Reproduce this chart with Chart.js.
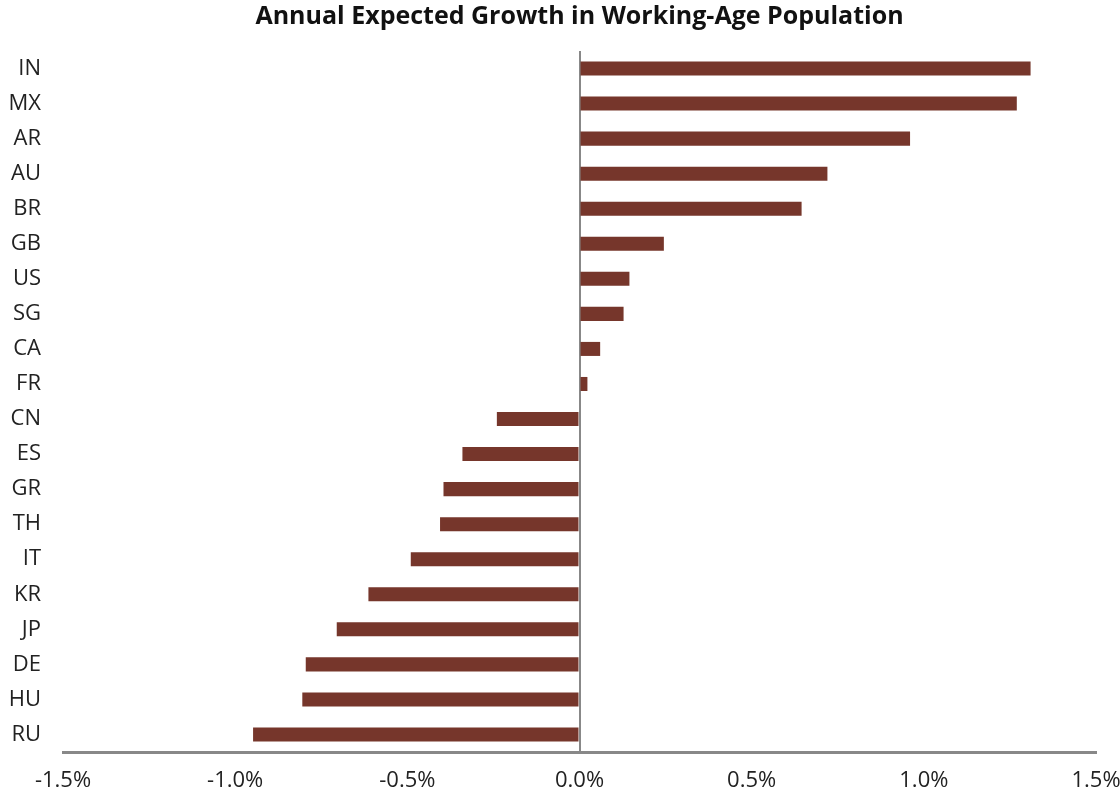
<!DOCTYPE html>
<html>
<head>
<meta charset="utf-8">
<script src="https://cdn.jsdelivr.net/npm/chart.js@4"></script>
<style>
  html, body { margin: 0; padding: 0; background: #fff; }
  #wrap { width: 1120px; height: 795px; }
</style>
</head>
<body>
<div id="wrap"><canvas id="growthChart"></canvas></div>
<script>
// datos (% anual)
const paises = ['IN', 'MX', 'AR', 'AU', 'BR', 'GB', 'US', 'SG', 'CA', 'FR',
                'CN', 'ES', 'GR', 'TH', 'IT', 'KR', 'JP', 'DE', 'HU', 'RU'];
const crecimiento = [1.31, 1.27, 0.96, 0.72, 0.645, 0.245, 0.145, 0.128, 0.06, 0.023,
                     -0.24, -0.34, -0.395, -0.405, -0.49, -0.613, -0.705, -0.795, -0.805, -0.948];
const ticksX = [-1.5, -1.0, -0.5, 0.0, 0.5, 1.0, 1.5];

const fuente = "'Open Sans', 'Noto Sans', sans-serif";

const ctx = document.getElementById('growthChart').getContext('2d');
const growthChart = new Chart(ctx, {
    type: 'bar',
    data: {
        labels: paises,
        datasets: [{
            label: 'Working-age population growth',
            data: crecimiento,
            backgroundColor: '#76362b',
            borderWidth: 0,
            barPercentage: 0.4,
            categoryPercentage: 1.0
        }]
    },
    options: {
        indexAxis: 'y',
        responsive: true,
        maintainAspectRatio: false,
        animation: false,
        layout: {
            padding: 0
        },
        plugins: {
            legend: { display: false },
            tooltip: { enabled: false },
            title: {
                display: true,
                fullSize: false,  // centrar sobre el área del gráfico
                text: 'Annual Expected Growth in Working-Age Population',
                color: '#111',
                font: { family: fuente, size: 25, weight: 'bold' },
                padding: { top: 2, bottom: 19 }
            }
        },
        scales: {
            x: {
                min: -1.5,
                max: 1.5,
                afterBuildTicks: function(scale) {
                    scale.ticks = ticksX.map(v => ({ value: v }));
                },
                afterFit: function(scale) {
                    scale.height = 43;
                    scale.paddingRight = 24;
                },
                grid: {
                    drawTicks: false,
                    lineWidth: 2,
                    color: function(c) {
                        return c.tick && c.tick.value === 0 ? '#888' : 'rgba(0,0,0,0)';
                    }
                },
                border: { display: true, color: '#888', width: 3 },
                ticks: {
                    color: '#222',
                    padding: 16,
                    maxRotation: 0,
                    font: { family: fuente, size: 22 },
                    callback: function(value) {
                        return value.toFixed(1) + '%';
                    }
                }
            },
            y: {
                grid: { display: false, drawTicks: false },
                border: { display: false },
                afterFit: function(scale) {
                    scale.width = 63;
                },
                ticks: {
                    color: '#222',
                    padding: 22,
                    font: { family: fuente, size: 22 }
                }
            }
        }
    }
});
</script>
</body>
</html>
